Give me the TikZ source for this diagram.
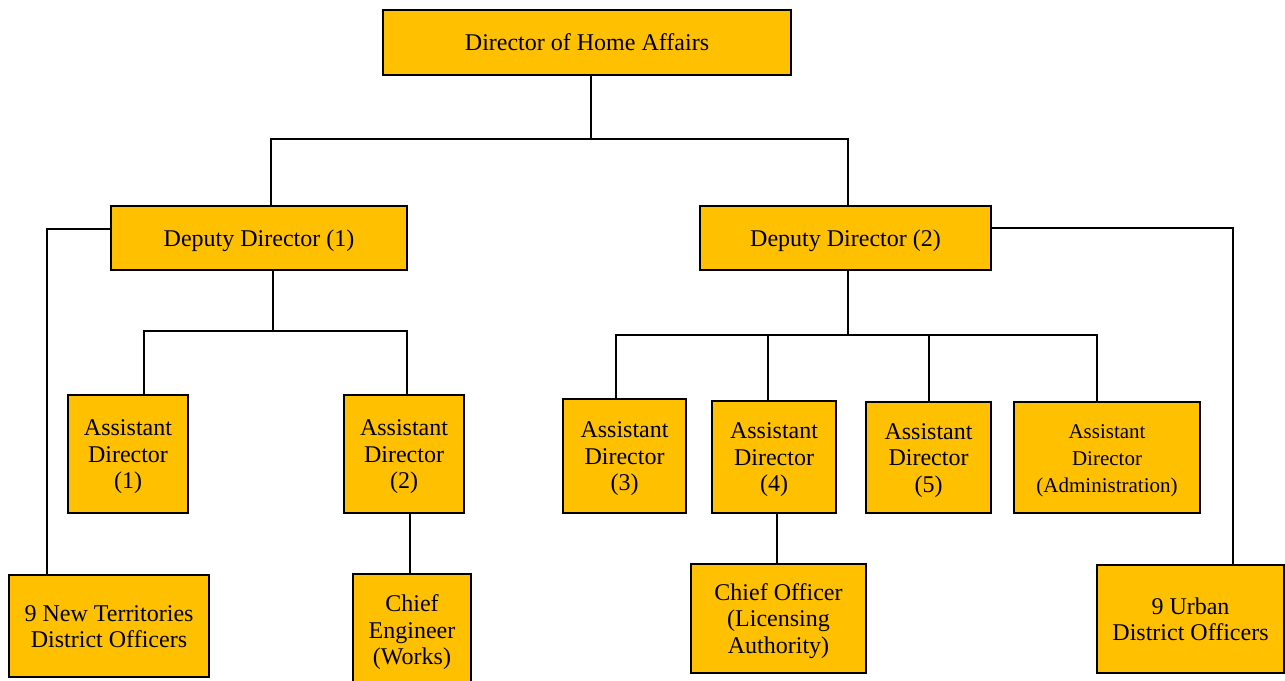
\documentclass[tikz,border=0pt]{standalone}
\usepackage{fontspec}
\setmainfont{Liberation Serif}
\definecolor{boxfill}{HTML}{FFC000}
\newcommand\bxt[1]{\raisebox{-3pt}[\height][\depth]{\begin{tabular}{@{}c@{}}#1\end{tabular}}}
\begin{document}
\begin{tikzpicture}[x=1pt,y=-1pt,
  box/.style={draw=black, line width=1.5pt, fill=boxfill, inner sep=0pt,
     font=\fontsize{24}{26.5}\selectfont},
  small/.style={font=\fontsize{21}{27}\selectfont},
  conn/.style={draw=black, line width=1.5pt}]
\useasboundingbox (0,0) rectangle (1285,680);
% nodes
\node[box, minimum width=408pt, minimum height=65pt] (dir) at (587,42.5) {\bxt{Director of Home Affairs}};
\node[box, minimum width=296pt, minimum height=64pt] (dd1) at (259,238) {\bxt{Deputy Director (1)}};
\node[box, minimum width=291pt, minimum height=64pt] (dd2) at (845.5,238) {\bxt{Deputy Director (2)}};
\node[box, minimum width=120pt, minimum height=118pt] (ad1) at (128,454) {\bxt{Assistant\\Director\\(1)}};
\node[box, minimum width=120pt, minimum height=118pt] (ad2) at (404,454) {\bxt{Assistant\\Director\\(2)}};
\node[box, minimum width=123pt, minimum height=114pt] (ad3) at (624.5,456) {\bxt{Assistant\\Director\\(3)}};
\node[box, minimum width=124pt, minimum height=112pt] (ad4) at (774,457) {\bxt{Assistant\\Director\\(4)}};
\node[box, minimum width=125pt, minimum height=111pt] (ad5) at (928.5,457.5) {\bxt{Assistant\\Director\\(5)}};
\node[box, small, minimum width=186pt, minimum height=111pt] (ada) at (1107,457.5) {\bxt{Assistant\\Director\\(Administration)}};
\node[box, minimum width=200pt, minimum height=102pt] (ntdo) at (109,626) {\bxt{9 New Territories\\District Officers}};
\node[box, minimum width=118pt, minimum height=112pt] (ce) at (412,630) {\bxt{Chief\\Engineer\\(Works)}};
\node[box, minimum width=175pt, minimum height=109pt] (co) at (778.5,618.5) {\bxt{Chief Officer\\(Licensing\\Authority)}};
\node[box, minimum width=187pt, minimum height=108pt] (udo) at (1190.5,619) {\bxt{9 Urban\\District Officers}};
% junction coordinates
\coordinate (j0) at (591,139);
\coordinate (jL) at (271,139);
\coordinate (jR) at (848,139);
\coordinate (k0) at (273,331);
\coordinate (kL) at (144,331);
\coordinate (kR) at (407,331);
\coordinate (m0) at (848,335);
\coordinate (m3) at (616,335);
\coordinate (m4) at (768,335);
\coordinate (m5) at (929,335);
\coordinate (ma) at (1097,335);
\coordinate (nL) at (47,229);
\coordinate (nR) at (1233,228);
\coordinate (pce) at (410,0);
\coordinate (pco) at (777,0);
% connectors
\draw[conn] (dir.south -| j0) -- (j0);
\draw[conn] (jL |- dd1.north) -- (jL) -- (jR) -- (jR |- dd2.north);
\draw[conn] (dd1.west |- nL) -- (nL) -- (nL |- ntdo.north);
\draw[conn] (dd1.south -| k0) -- (k0);
\draw[conn] (kL |- ad1.north) -- (kL) -- (kR) -- (kR |- ad2.north);
\draw[conn] (ad2.south -| pce) -- (pce |- ce.north);
\draw[conn] (dd2.south -| m0) -- (m0);
\draw[conn] (m3 |- ad3.north) -- (m3) -- (ma) -- (ma |- ada.north);
\draw[conn] (m4) -- (m4 |- ad4.north);
\draw[conn] (m5) -- (m5 |- ad5.north);
\draw[conn] (ad4.south -| pco) -- (pco |- co.north);
\draw[conn] (dd2.east |- nR) -- (nR) -- (nR |- udo.north);
\end{tikzpicture}
\end{document}
